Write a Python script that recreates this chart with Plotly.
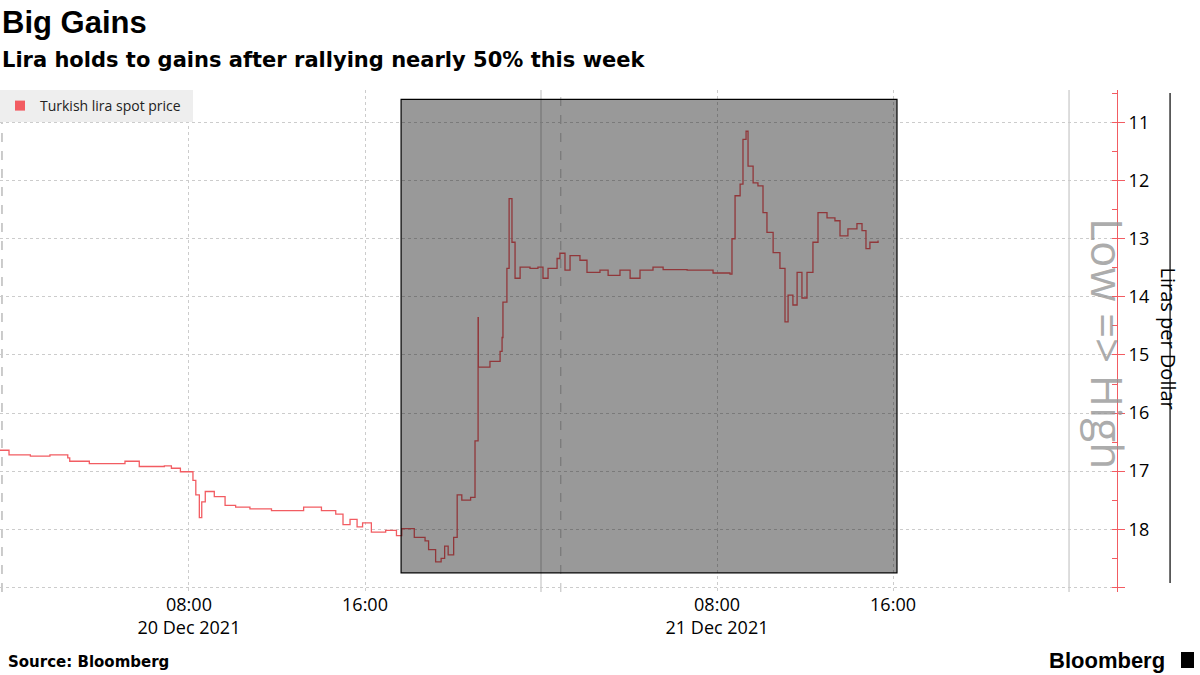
import plotly.graph_objects as go
import pandas as pd

# hours since 2021-12-20 00:00 and lira per dollar
hours = [-0.59,-0.18,0.79,1.68,2.49,2.58,3.47,5.09,5.74,6.88,7.20,7.61,8.18,8.31,8.47,8.58,8.74,9.15,9.64,10.12,10.77,11.75,13.21,14.02,14.67,15.0,15.32,15.64,15.89,16.29,16.94,17.43,17.67,18.24,18.73,18.89,19.21,19.46,19.62,19.78,20.03,20.19,20.4,20.8,
         21.0,21.14,21.15,21.45,21.68,22.14,22.23,22.27,22.45,22.55,22.68,22.82,23.05,23.5,23.86,24.09,24.32,24.73,24.86,25.09,25.32,25.77,26.09,26.68,27.05,27.59,28.05,28.5,29.09,29.55,30.64,31.82,32.59,32.68,32.82,33.05,33.18,33.32,33.41,33.64,33.86,34.09,34.27,34.55,34.86,35.09,35.23,35.45,35.64,35.86,36.09,36.36,36.59,37.0,37.36,37.59,37.95,38.36,38.59,38.77,38.95,39.32]
prices = [16.64,16.72,16.74,16.72,16.77,16.83,16.87,16.83,16.92,16.91,16.95,17.01,17.16,17.41,17.80,17.53,17.35,17.44,17.59,17.62,17.65,17.68,17.62,17.68,17.74,17.92,17.83,17.96,17.89,18.05,18.02,18.11,17.99,18.14,18.2,18.35,18.56,18.5,18.29,18.44,18.14,17.41,17.5,17.45,
          16.48,14.36,15.21,15.21,15.11,14.94,14.7,14.09,13.51,12.31,13.06,13.68,13.49,13.51,13.49,13.68,13.51,13.34,13.25,13.54,13.29,13.37,13.58,13.54,13.63,13.54,13.68,13.54,13.49,13.53,13.54,13.59,13.61,13.0,12.26,12.06,11.29,11.15,11.75,12.04,12.09,12.55,12.89,13.24,13.51,14.43,13.97,14.14,13.58,14.02,13.58,13.06,12.55,12.64,12.69,12.95,12.83,12.74,12.86,13.17,13.06,13.03]
tick_hours = [8, 16, 32, 40]
tick_text = ["08:00<br>20 Dec 2021", "16:00", "08:00<br>21 Dec 2021", "16:00"]
y_ticks = list(range(11, 20))

base = pd.Timestamp("2021-12-20 00:00")
times = [base + pd.Timedelta(hours=h) for h in hours]
T = lambda h: base + pd.Timedelta(hours=h)
RED = "#f25c62"
PH = 502
P = lambda ypix: 1 + (90 - ypix) / PH

fig = go.Figure()
fig.add_trace(go.Scatter(x=times, y=prices, mode="lines", line=dict(color=RED, width=1.3, shape="hv"),
                         name="Turkish lira spot price", showlegend=False))
fig.add_trace(go.Scatter(x=[None], y=[None], mode="markers", marker=dict(symbol="square", size=10, color=RED),
                         name="Turkish lira spot price&nbsp;&nbsp;", showlegend=True))

shapes = [
    dict(type="rect", xref="x", yref="y", x0=T(17.64), x1=T(40.18), y0=10.6, y1=18.75,
         fillcolor="rgba(0,0,0,0.4)", line=dict(color="black", width=1.2), layer="above"),
    dict(type="line", xref="x", yref="paper", x0=T(24), x1=T(24), y0=0, y1=1, line=dict(color="#bbbbbb", width=1), layer="below"),
    dict(type="line", xref="x", yref="paper", x0=T(48), x1=T(48), y0=0, y1=1, line=dict(color="#bbbbbb", width=1), layer="below"),
    dict(type="line", xref="x", yref="paper", x0=T(24.9), x1=T(24.9), y0=0, y1=1, line=dict(color="#bbbbbb", width=1, dash="dash"), layer="below"),
    dict(type="line", xref="x", yref="paper", x0=T(-0.5), x1=T(-0.5), y0=0, y1=1, line=dict(color="#bbbbbb", width=1.5, dash="dash"), layer="below"),
    dict(type="line", xref="paper", yref="paper", x0=1.0475, x1=1.0475, y0=P(583), y1=P(93), line=dict(color="black", width=1.2)),
    dict(type="rect", xref="paper", yref="paper", x0=1181/1117, x1=1194/1117, y0=P(668), y1=P(652), fillcolor="black", line=dict(width=0)),
]
fig.update_layout(
    width=1200, height=675, plot_bgcolor="white", paper_bgcolor="white",
    margin=dict(l=0, r=83, t=90, b=83, autoexpand=False),
    font=dict(family="Open Sans", color="black"),
    shapes=shapes,
    showlegend=True,
    legend=dict(x=0, y=1, xanchor="left", yanchor="top", bgcolor="#eeeeee", font=dict(size=14, color="#222"),
                itemwidth=30),
    xaxis=dict(range=[T(-0.59), T(50.18)], tickvals=[T(h) for h in tick_hours], ticktext=tick_text,
               showgrid=True, gridcolor="#cccccc", griddash="dot", tickfont=dict(size=18), ticks="", showline=False, zeroline=False),
    yaxis=dict(side="right", range=[19.08, 10.44], tickvals=y_ticks, ticktext=[str(v) for v in y_ticks[:-1]] + [""],
               showgrid=True, gridcolor="#cccccc", griddash="dot", showline=True, linecolor=RED, linewidth=1,
               ticks="outside", tickcolor=RED, ticklen=7, tickfont=dict(size=18), zeroline=False,
               minor=dict(dtick=0.5, ticks="inside", ticklen=5, tickcolor=RED, showgrid=False)),
    annotations=[
        dict(text="<b>Big Gains</b>", xref="paper", yref="paper", x=0, y=P(22), xanchor="left", yanchor="middle",
             showarrow=False, font=dict(family="Liberation Sans", size=31)),
        dict(text="<b>Lira holds to gains after rallying nearly 50% this week</b>", xref="paper", yref="paper", x=0, y=P(60),
             xanchor="left", yanchor="middle", showarrow=False, font=dict(family="DejaVu Sans", size=21)),
        dict(text="Low => High", xref="paper", yref="paper", x=1140/1117, y=P(343), textangle=90, showarrow=False,
             font=dict(size=44, color="rgba(150,150,150,0.8)")),
        dict(text="Liras per Dollar", xref="paper", yref="paper", x=1184/1117, y=P(338), textangle=90, showarrow=False,
             font=dict(size=20)),
        dict(text="<b>Source: Bloomberg</b>", xref="paper", yref="paper", x=0.005, y=P(662), xanchor="left", yanchor="middle",
             showarrow=False, font=dict(family="DejaVu Sans", size=15)),
        dict(text="<b>Bloomberg</b>", xref="paper", yref="paper", x=1167/1117, y=P(660), xanchor="right", yanchor="middle",
             showarrow=False, font=dict(family="Liberation Sans", size=22)),
    ],
)
fig.write_html("out.html", config={"displayModeBar": False},
               post_script="document.body.style.margin='0';document.body.style.overflow='hidden';")
